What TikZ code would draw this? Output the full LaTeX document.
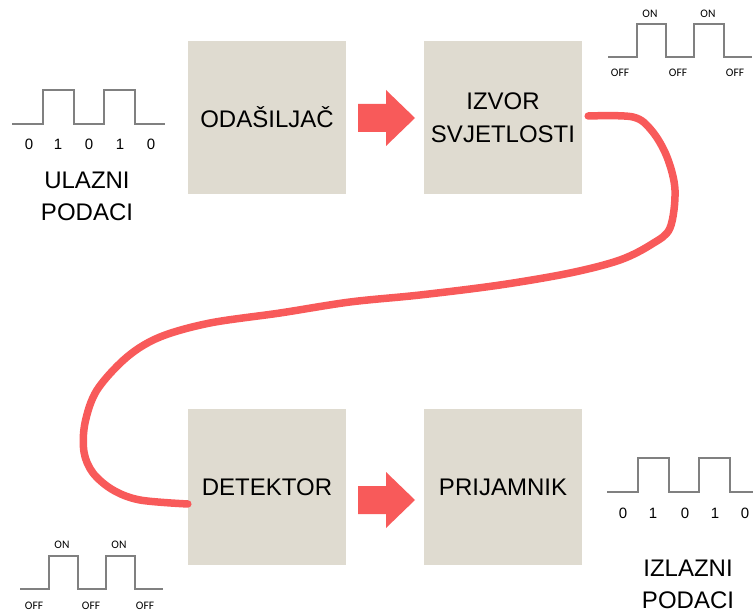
\documentclass[tikz,border=0pt]{standalone}
\usepackage{fontspec}
\setmainfont{Liberation Sans}
\newfontfamily\calib{Carlito}
\definecolor{boxc}{HTML}{DFDBD0}
\definecolor{redc}{HTML}{F85A5A}
\definecolor{sigc}{HTML}{808080}
\begin{document}
\begin{tikzpicture}[x=1pt,y=-1pt,
  box/.style={fill=boxc, minimum width=158pt, minimum height=153pt, inner sep=0pt, align=center, font=\fontsize{24}{33}\selectfont},
  sig/.style={draw=sigc, line width=1.4pt},
  digit/.style={inner sep=0pt, font=\fontsize{15}{18}\selectfont},
  onoff/.style={inner sep=0pt, font=\calib\fontsize{11.5}{13}\selectfont},
  big/.style={inner sep=0pt, align=center, font=\fontsize{24}{32}\selectfont},
  fiber/.style={draw=redc, line width=7.5pt, line cap=round, line join=round},
  blockarrow/.style={fill=redc}]
\useasboundingbox (0,0) rectangle (753,612);
% boxes
\node[box] (oda) at (267,117.5) {ODAŠILJAČ};
\node[box] (izv) at (503,117.5) {IZVOR\\SVJETLOSTI};
\node[box, minimum height=156pt] (det) at (267,487) {DETEKTOR};
\node[box, minimum height=156pt] (pri) at (503,487) {PRIJAMNIK};
% block arrows
\fill[blockarrow] (358,104) -- (386,104) -- (386,90) -- (415,118) -- (386,146) -- (386,132) -- (358,132) -- cycle;
\fill[blockarrow] (358,486) -- (386,486) -- (386,472) -- (415,500) -- (386,528) -- (386,514) -- (358,514) -- cycle;
% fiber
\coordinate (fs) at ([xshift=6pt,yshift=1.5pt]izv.east);
\coordinate (fe) at ([yshift=-17pt]det.west);
\draw[fiber] plot[smooth, tension=0.55] coordinates {(fs) (633,117) (652,131) (667,157) (675,190) (670,228) (652,244) (620,260) (570,273) (500,285) (420,295) (350,302) (280,313) (210,323) (160,337) (127,357) (97,390) (85,423) (84,452) (93,473) (113,490) (140,500) (fe)};
% input signal
\draw[sig] (12,124) -- (43,124) -- (43,90) -- (74,90) -- (74,124) -- (104,124) -- (104,90) -- (135,90) -- (135,124) -- (165,124);
\node[digit] (i0) at (29,144) {0};
\node[digit] (i1) at (58,144) {1};
\node[digit] (i2) at (89,144) {0};
\node[digit] (i3) at (120,144) {1};
\node[digit] (i4) at (151,144) {0};
\node[big] (ul) at (87,196) {ULAZNI\\PODACI};
% light signal top right
\draw[sig] (608,57) -- (637,57) -- (637,24) -- (666,24) -- (666,57) -- (694,57) -- (694,24) -- (724,24) -- (724,57) -- (752,57);
\node[onoff] (on1) at (650,14) {ON};
\node[onoff] (on2) at (708,14) {ON};
\node[onoff] (of1) at (620,73) {OFF};
\node[onoff] (of2) at (678,73) {OFF};
\node[onoff] (of3) at (735,73) {OFF};
% light signal bottom left
\draw[sig] (20,589) -- (49,589) -- (49,556) -- (78,556) -- (78,589) -- (106,589) -- (106,556) -- (135,556) -- (135,589) -- (163,589);
\node[onoff] (on3) at (62,545) {ON};
\node[onoff] (on4) at (119,545) {ON};
\node[onoff] (of4) at (34,606) {OFF};
\node[onoff] (of5) at (91,606) {OFF};
\node[onoff] (of6) at (145,606) {OFF};
% output signal
\draw[sig] (607,492) -- (638,492) -- (638,458) -- (669,458) -- (669,492) -- (699,492) -- (699,458) -- (730,458) -- (730,492) -- (753,492);
\node[digit] (o0) at (623,513) {0};
\node[digit] (o1) at (653,513) {1};
\node[digit] (o2) at (685,513) {0};
\node[digit] (o3) at (715,513) {1};
\node[digit] (o4) at (745,513) {0};
\node[big] (iz) at (688,584) {IZLAZNI\\PODACI};
\end{tikzpicture}
\end{document}
